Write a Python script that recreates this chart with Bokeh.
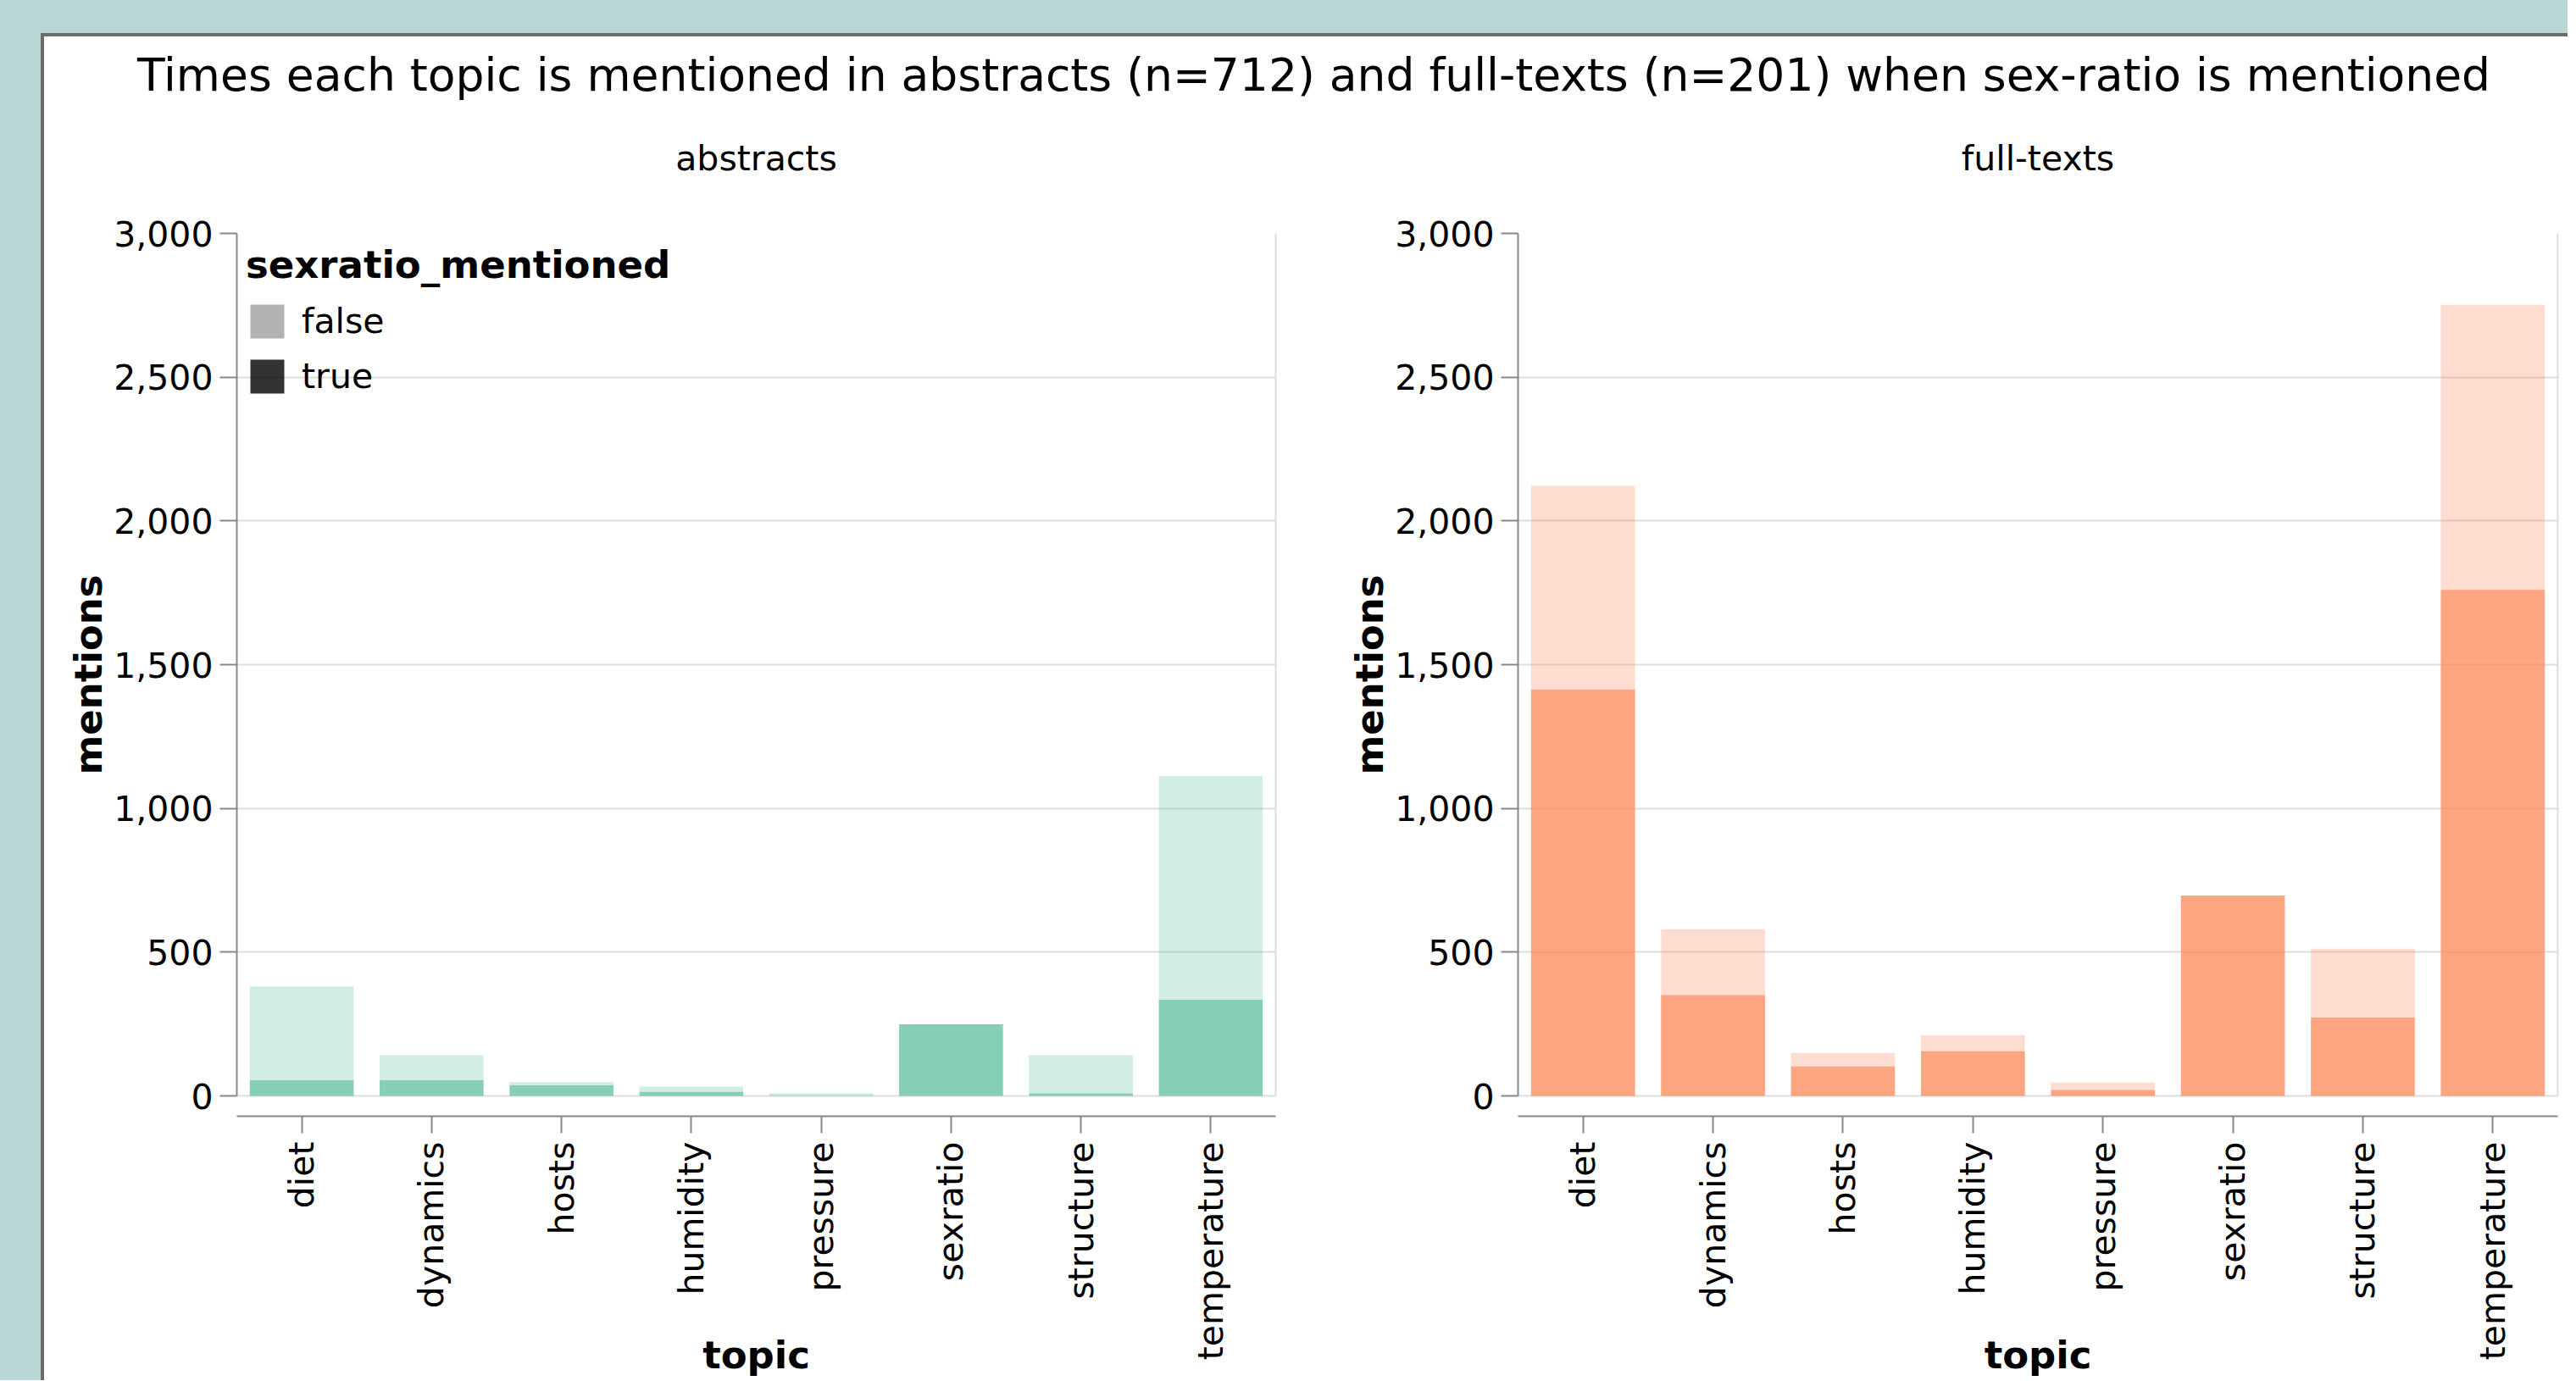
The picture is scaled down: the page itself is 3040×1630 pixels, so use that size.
import math
from bokeh.plotting import figure
from bokeh.layouts import column, row
from bokeh.models import (FactorRange, Range1d, LinearAxis, FixedTicker, NumeralTickFormatter,
                          Legend, LegendItem, ColumnDataSource, Label)
from bokeh.embed import file_html
from bokeh.resources import INLINE

# ---------------- data ----------------
topics = ["diet", "dynamics", "hosts", "humidity", "pressure", "sexratio", "structure", "temperature"]
abstracts_true = [55, 55, 37, 14, 1, 249, 9, 335]
abstracts_false = [326, 87, 11, 19, 8, 0, 133, 778]
fulltexts_true = [1413, 351, 103, 156, 21, 697, 273, 1760]
fulltexts_false = [709, 229, 47, 55, 26, 0, 239, 992]
y_ticks = [0, 500, 1000, 1500, 2000, 2500, 3000]
panel_titles = ["abstracts", "full-texts"]
main_title = ("Times each topic is mentioned in abstracts (n=712) and full-texts (n=201) "
              "when sex-ratio is mentioned")
legend_title = "sexratio_mentioned"
legend_labels = ["false", "true"]
panel_colors = ["#66c2a5", "#fc8d62"]
opacity = {"false": 0.3, "true": 0.8}

# ---------------- layout constants ----------------
FONT = "DejaVu Sans"
LABEL_PX = "41px"
AXTITLE_PX = "45px"
CARD_W = 2978
TITLE_H = 200
PANEL_H = 1386
FRAME_TOP = 32
FRAME_H = 1046
ZERO_GAP = 24                      # px between value 0 and the x axis line
Y_MAX = 3000
Y_MIN = -Y_MAX * ZERO_GAP / (FRAME_H - ZERO_GAP)
MB_LEFT = 227
W1, FW1 = 1512, 1226
W2, FW2 = CARD_W - 1512, 1227


def make_panel(width, frame_w, trues, falses, color, with_legend):
    p = figure(width=width, height=PANEL_H,
               x_range=FactorRange(*topics, range_padding=0, factor_padding=0),
               y_range=Range1d(Y_MIN, Y_MAX),
               output_backend="svg", toolbar_location=None,
               min_border_left=MB_LEFT, min_border_right=width - MB_LEFT - frame_w,
               min_border_top=FRAME_TOP, min_border_bottom=PANEL_H - FRAME_TOP - FRAME_H,
               outline_line_color=None, background_fill_color="white",
               border_fill_color="white")
    src = ColumnDataSource(dict(topic=topics, true=trues, false=falses,
                                total=[t + f for t, f in zip(trues, falses)]))
    p.vbar(x="topic", bottom=0, top="true", width=0.8, source=src,
           fill_color=color, fill_alpha=opacity["true"], line_color=None)
    p.vbar(x="topic", bottom="true", top="total", width=0.8, source=src,
           fill_color=color, fill_alpha=opacity["false"], line_color=None)

    # y axis
    yax = p.yaxis[0]
    yax.ticker = FixedTicker(ticks=y_ticks)
    yax.formatter = NumeralTickFormatter(format="0,0")
    yax.bounds = (0, Y_MAX)
    yax.axis_label = "mentions"
    yax.axis_label_text_font = FONT
    yax.axis_label_text_font_size = AXTITLE_PX
    yax.axis_label_text_font_style = "bold"
    yax.axis_label_text_color = "#000000"
    yax.axis_label_standoff = 0
    yax.major_label_text_font = FONT
    yax.major_label_text_font_size = LABEL_PX
    yax.major_label_text_color = "#000000"
    yax.major_label_standoff = 8
    yax.axis_line_color = "#888888"
    yax.axis_line_width = 2
    yax.major_tick_line_color = "#888888"
    yax.major_tick_line_width = 2
    yax.major_tick_out = 20
    yax.major_tick_in = 0
    yax.minor_tick_line_color = None

    # x axis
    xax = p.xaxis[0]
    xax.axis_label = "topic"
    xax.axis_label_text_font = FONT
    xax.axis_label_text_font_size = AXTITLE_PX
    xax.axis_label_text_font_style = "bold"
    xax.axis_label_text_color = "#000000"
    xax.axis_label_standoff = -35
    xax.major_label_orientation = math.pi / 2
    xax.major_label_text_font = FONT
    xax.major_label_text_font_size = LABEL_PX
    xax.major_label_text_color = "#000000"
    xax.major_label_standoff = 10
    xax.axis_line_color = "#888888"
    xax.axis_line_width = 2
    xax.major_tick_line_color = "#888888"
    xax.major_tick_line_width = 2
    xax.major_tick_out = 20
    xax.major_tick_in = 0

    # grid + right edge of the view
    p.xgrid.visible = False
    p.ygrid.ticker = FixedTicker(ticks=y_ticks)
    p.ygrid.grid_line_color = "#dddddd"
    p.ygrid.grid_line_width = 2
    edge = LinearAxis(bounds=(0, Y_MAX), ticker=FixedTicker(ticks=[]),
                      axis_line_color="#dddddd", axis_line_width=2,
                      major_tick_line_color=None, minor_tick_line_color=None,
                      major_label_text_font_size="0px")
    p.add_layout(edge, "right")

    if with_legend:
        # zero-height bars: they draw nothing in the plot but give the legend its swatches
        swatch = ColumnDataSource(dict(x=[topics[0]], top=[0]))
        items = []
        for lab in legend_labels:
            r = p.vbar(x="x", top="top", bottom=0, width=0.8, source=swatch,
                       fill_color="#000000", fill_alpha=opacity[lab], line_color=None)
            items.append(LegendItem(label=lab, renderers=[r]))
        leg = Legend(items=items, location="top_left", title=legend_title,
                     title_text_font=FONT, title_text_font_size=AXTITLE_PX,
                     title_text_font_style="bold", title_text_color="#000000",
                     title_standoff=15,
                     label_text_font=FONT, label_text_font_size=LABEL_PX,
                     label_text_color="#000000",
                     glyph_width=50, glyph_height=50, label_standoff=16, spacing=15,
                     margin=11, padding=11, background_fill_alpha=0,
                     border_line_color=None)
        p.add_layout(leg)
    return p


p1 = make_panel(W1, FW1, abstracts_true, abstracts_false, panel_colors[0], True)
p2 = make_panel(W2, FW2, fulltexts_true, fulltexts_false, panel_colors[1], False)

# title strip with the overall title and the two panel headers
t = figure(width=CARD_W, height=TITLE_H, x_range=Range1d(0, CARD_W), y_range=Range1d(0, TITLE_H),
           x_axis_type=None, y_axis_type=None, min_border=0, output_backend="svg",
           toolbar_location=None, outline_line_color=None, background_fill_color="white",
           border_fill_color="white")
t.grid.visible = False
t.add_layout(Label(x=1498, y=TITLE_H - 45, text=main_title, text_align="center",
                   text_baseline="middle", text_font=FONT, text_font_size="53.5px",
                   text_color="#000000"))
header_x = [MB_LEFT + FW1 / 2, W1 + MB_LEFT + FW2 / 2]
for hx, ht in zip(header_x, panel_titles):
    t.add_layout(Label(x=hx, y=TITLE_H - 143, text=ht, text_align="center",
                       text_baseline="middle", text_font=FONT, text_font_size=LABEL_PX,
                       text_color="#000000"))

card = column(t, row(p1, p2),
              styles={"border-top": "4px solid #6b6b6b", "border-left": "4px solid #6b6b6b",
                      "background-color": "white"})
outer = column(card, styles={"background-color": "#b9d5d6", "padding-top": "39px",
                             "padding-left": "48px"})

open("out.html", "w").write(file_html(outer, INLINE))
